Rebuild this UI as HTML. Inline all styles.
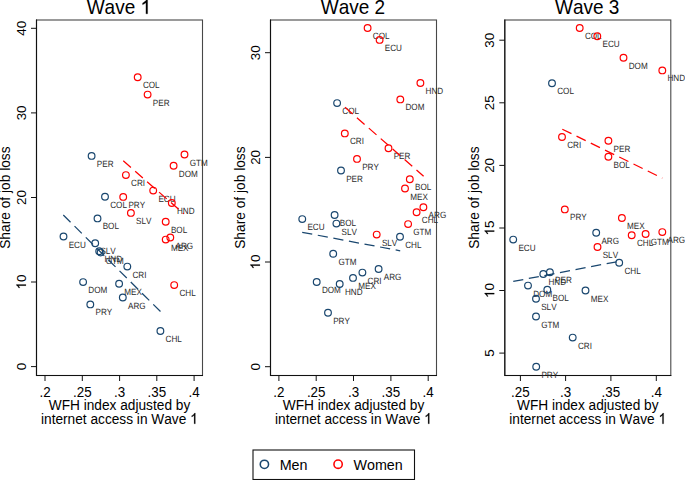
<!DOCTYPE html>
<html><head><meta charset="utf-8"><title>Share of job loss by wave</title>
<style>
html,body{margin:0;padding:0;background:#fff;}
body{width:685px;height:480px;overflow:hidden;}
svg{display:block;}
text{font-family:"Liberation Sans", sans-serif;font-kerning:none;}
text.g{text-rendering:geometricPrecision;}
</style></head><body>
<svg width="685" height="480" viewBox="0 0 685 480">
<rect x="0" y="0" width="685" height="480" fill="#fff"/>
<g transform="translate(118.9,13.8) scale(1,1.05)" fill="#000"><text x="-32.21" y="0" font-size="19.0">Wave  </text><path transform="translate(21.64,0) scale(0.009277,-0.009277)" stroke="#000" stroke-width="28" stroke-linejoin="round" d="M763 0L583 0L583 1147Q518 1085 415 1024.5Q312 964 223 931L223 1105Q375 1176 487.5 1276Q600 1376 651 1466L763 1466Z"/></g>
<rect x="36.5" y="20" width="166" height="355.5" fill="none" stroke="#484848" stroke-width="1.1"/>
<path d="M36.5 19.5V375.5H203" fill="none" stroke="#111" stroke-width="1.1"/>
<line x1="31" y1="366.6" x2="36.5" y2="366.6" stroke="#111" stroke-width="1"/>
<text transform="translate(25.95,366.6) rotate(-90)" font-size="13.4" text-anchor="middle" fill="#000">0</text>
<line x1="31" y1="282" x2="36.5" y2="282" stroke="#111" stroke-width="1"/>
<g transform="translate(25.95,282) rotate(-90)" fill="#000"><text x="-7.45" y="0" font-size="13.4"> 0</text><path transform="translate(-7.45,0) scale(0.006543,-0.006543)" stroke="#000" stroke-width="28" stroke-linejoin="round" d="M763 0L583 0L583 1147Q518 1085 415 1024.5Q312 964 223 931L223 1105Q375 1176 487.5 1276Q600 1376 651 1466L763 1466Z"/></g>
<line x1="31" y1="197.5" x2="36.5" y2="197.5" stroke="#111" stroke-width="1"/>
<text transform="translate(25.95,197.5) rotate(-90)" font-size="13.4" text-anchor="middle" fill="#000">20</text>
<line x1="31" y1="112.9" x2="36.5" y2="112.9" stroke="#111" stroke-width="1"/>
<text transform="translate(25.95,112.9) rotate(-90)" font-size="13.4" text-anchor="middle" fill="#000">30</text>
<line x1="31" y1="28.3" x2="36.5" y2="28.3" stroke="#111" stroke-width="1"/>
<text transform="translate(25.95,28.3) rotate(-90)" font-size="13.4" text-anchor="middle" fill="#000">40</text>
<line x1="45" y1="375.5" x2="45" y2="381" stroke="#111" stroke-width="1"/>
<text transform="translate(45,396.8) scale(1,1.1)" font-size="13.4" text-anchor="middle" fill="#000">.2</text>
<line x1="82.3" y1="375.5" x2="82.3" y2="381" stroke="#111" stroke-width="1"/>
<text transform="translate(82.3,396.8) scale(1,1.1)" font-size="13.4" text-anchor="middle" fill="#000">.25</text>
<line x1="119.6" y1="375.5" x2="119.6" y2="381" stroke="#111" stroke-width="1"/>
<text transform="translate(119.6,396.8) scale(1,1.1)" font-size="13.4" text-anchor="middle" fill="#000">.3</text>
<line x1="156.8" y1="375.5" x2="156.8" y2="381" stroke="#111" stroke-width="1"/>
<text transform="translate(156.8,396.8) scale(1,1.1)" font-size="13.4" text-anchor="middle" fill="#000">.35</text>
<line x1="194.1" y1="375.5" x2="194.1" y2="381" stroke="#111" stroke-width="1"/>
<text transform="translate(194.1,396.8) scale(1,1.1)" font-size="13.4" text-anchor="middle" fill="#000">.4</text>
<text transform="translate(10,197.6) rotate(-90)" font-size="13.75" text-anchor="middle" fill="#000">Share of job loss</text>
<text transform="translate(119.5,410) scale(1,1.1)" font-size="13.7" text-anchor="middle" fill="#000">WFH index adjusted by</text>
<g transform="translate(119.4,423.8) scale(1,1.1)" fill="#000"><text x="-78.43" y="0" font-size="13.7">internet access in Wave  </text><path transform="translate(70.81,0) scale(0.006689,-0.006689)" stroke="#000" stroke-width="28" stroke-linejoin="round" d="M763 0L583 0L583 1147Q518 1085 415 1024.5Q312 964 223 931L223 1105Q375 1176 487.5 1276Q600 1376 651 1466L763 1466Z"/></g>
<text transform="translate(96.8,166.9) scale(1,1.12)" font-size="8.15" fill="#2a2a2a" class="g">PER</text>
<text transform="translate(110.2,207.8) scale(1,1.12)" font-size="8.15" fill="#2a2a2a" class="g">COL</text>
<text transform="translate(102.7,229.4) scale(1,1.12)" font-size="8.15" fill="#2a2a2a" class="g">BOL</text>
<text transform="translate(68.7,247.5) scale(1,1.12)" font-size="8.15" fill="#2a2a2a" class="g">ECU</text>
<text transform="translate(100.4,254.2) scale(1,1.12)" font-size="8.15" fill="#2a2a2a" class="g">SLV</text>
<text transform="translate(104.4,262.2) scale(1,1.12)" font-size="8.15" fill="#2a2a2a" class="g">HND</text>
<text transform="translate(105.8,263.5) scale(1,1.12)" font-size="8.15" fill="#2a2a2a" class="g">GTM</text>
<text transform="translate(132.5,277.6) scale(1,1.12)" font-size="8.15" fill="#2a2a2a" class="g">CRI</text>
<text transform="translate(88.3,293.1) scale(1,1.12)" font-size="8.15" fill="#2a2a2a" class="g">DOM</text>
<text transform="translate(124.3,294.8) scale(1,1.12)" font-size="8.15" fill="#2a2a2a" class="g">MEX</text>
<text transform="translate(128,308.5) scale(1,1.12)" font-size="8.15" fill="#2a2a2a" class="g">ARG</text>
<text transform="translate(95.5,315.4) scale(1,1.12)" font-size="8.15" fill="#2a2a2a" class="g">PRY</text>
<text transform="translate(165.6,342) scale(1,1.12)" font-size="8.15" fill="#2a2a2a" class="g">CHL</text>
<circle cx="91.6" cy="155.9" r="3.35" fill="none" stroke="#1a476f" stroke-width="1.2"/>
<circle cx="105" cy="196.8" r="3.35" fill="none" stroke="#1a476f" stroke-width="1.2"/>
<circle cx="97.5" cy="218.4" r="3.35" fill="none" stroke="#1a476f" stroke-width="1.2"/>
<circle cx="63.5" cy="236.5" r="3.35" fill="none" stroke="#1a476f" stroke-width="1.2"/>
<circle cx="95.2" cy="243.2" r="3.35" fill="none" stroke="#1a476f" stroke-width="1.2"/>
<circle cx="99.2" cy="251.2" r="3.35" fill="none" stroke="#1a476f" stroke-width="1.2"/>
<circle cx="100.6" cy="252.5" r="3.35" fill="none" stroke="#1a476f" stroke-width="1.2"/>
<circle cx="127.3" cy="266.6" r="3.35" fill="none" stroke="#1a476f" stroke-width="1.2"/>
<circle cx="83.1" cy="282.1" r="3.35" fill="none" stroke="#1a476f" stroke-width="1.2"/>
<circle cx="119.1" cy="283.8" r="3.35" fill="none" stroke="#1a476f" stroke-width="1.2"/>
<circle cx="122.8" cy="297.5" r="3.35" fill="none" stroke="#1a476f" stroke-width="1.2"/>
<circle cx="90.3" cy="304.4" r="3.35" fill="none" stroke="#1a476f" stroke-width="1.2"/>
<circle cx="160.4" cy="331" r="3.35" fill="none" stroke="#1a476f" stroke-width="1.2"/>
<text transform="translate(142.9,88.2) scale(1,1.12)" font-size="8.15" fill="#2a2a2a" class="g">COL</text>
<text transform="translate(152.8,105.6) scale(1,1.12)" font-size="8.15" fill="#2a2a2a" class="g">PER</text>
<text transform="translate(189.7,165.5) scale(1,1.12)" font-size="8.15" fill="#2a2a2a" class="g">GTM</text>
<text transform="translate(178.8,176.8) scale(1,1.12)" font-size="8.15" fill="#2a2a2a" class="g">DOM</text>
<text transform="translate(131.1,186.1) scale(1,1.12)" font-size="8.15" fill="#2a2a2a" class="g">CRI</text>
<text transform="translate(158.4,201.6) scale(1,1.12)" font-size="8.15" fill="#2a2a2a" class="g">ECU</text>
<text transform="translate(128.4,207.9) scale(1,1.12)" font-size="8.15" fill="#2a2a2a" class="g">PRY</text>
<text transform="translate(177,214) scale(1,1.12)" font-size="8.15" fill="#2a2a2a" class="g">HND</text>
<text transform="translate(136.1,223.9) scale(1,1.12)" font-size="8.15" fill="#2a2a2a" class="g">SLV</text>
<text transform="translate(170.9,232.7) scale(1,1.12)" font-size="8.15" fill="#2a2a2a" class="g">BOL</text>
<text transform="translate(175.5,248.5) scale(1,1.12)" font-size="8.15" fill="#2a2a2a" class="g">ARG</text>
<text transform="translate(170.9,250.6) scale(1,1.12)" font-size="8.15" fill="#2a2a2a" class="g">MEX</text>
<text transform="translate(179.4,296.1) scale(1,1.12)" font-size="8.15" fill="#2a2a2a" class="g">CHL</text>
<circle cx="137.7" cy="77.2" r="3.35" fill="none" stroke="#ff0000" stroke-width="1.2"/>
<circle cx="147.6" cy="94.6" r="3.35" fill="none" stroke="#ff0000" stroke-width="1.2"/>
<circle cx="184.5" cy="154.5" r="3.35" fill="none" stroke="#ff0000" stroke-width="1.2"/>
<circle cx="173.6" cy="165.8" r="3.35" fill="none" stroke="#ff0000" stroke-width="1.2"/>
<circle cx="125.9" cy="175.1" r="3.35" fill="none" stroke="#ff0000" stroke-width="1.2"/>
<circle cx="153.2" cy="190.6" r="3.35" fill="none" stroke="#ff0000" stroke-width="1.2"/>
<circle cx="123.2" cy="196.9" r="3.35" fill="none" stroke="#ff0000" stroke-width="1.2"/>
<circle cx="171.8" cy="203" r="3.35" fill="none" stroke="#ff0000" stroke-width="1.2"/>
<circle cx="130.9" cy="212.9" r="3.35" fill="none" stroke="#ff0000" stroke-width="1.2"/>
<circle cx="165.7" cy="221.7" r="3.35" fill="none" stroke="#ff0000" stroke-width="1.2"/>
<circle cx="170.3" cy="237.5" r="3.35" fill="none" stroke="#ff0000" stroke-width="1.2"/>
<circle cx="165.7" cy="239.6" r="3.35" fill="none" stroke="#ff0000" stroke-width="1.2"/>
<circle cx="174.2" cy="285.1" r="3.35" fill="none" stroke="#ff0000" stroke-width="1.2"/>
<line x1="63.3" y1="215" x2="160.5" y2="311.56" stroke="#1a476f" stroke-width="1.25" stroke-dasharray="10.2 5.65"/>
<line x1="123.25" y1="160.83" x2="183.9" y2="213.9" stroke="#ff0000" stroke-width="1.25" stroke-dasharray="10.2 5.65"/>
<text transform="translate(352.9,13.8) scale(1,1.05)" font-size="19.0" text-anchor="middle" fill="#000">Wave 2</text>
<rect x="270.5" y="20" width="166" height="355.5" fill="none" stroke="#484848" stroke-width="1.1"/>
<path d="M270.5 19.5V375.5H437" fill="none" stroke="#111" stroke-width="1.1"/>
<line x1="265" y1="366.7" x2="270.5" y2="366.7" stroke="#111" stroke-width="1"/>
<text transform="translate(259.95,366.7) rotate(-90)" font-size="13.4" text-anchor="middle" fill="#000">0</text>
<line x1="265" y1="262" x2="270.5" y2="262" stroke="#111" stroke-width="1"/>
<g transform="translate(259.95,262) rotate(-90)" fill="#000"><text x="-7.45" y="0" font-size="13.4"> 0</text><path transform="translate(-7.45,0) scale(0.006543,-0.006543)" stroke="#000" stroke-width="28" stroke-linejoin="round" d="M763 0L583 0L583 1147Q518 1085 415 1024.5Q312 964 223 931L223 1105Q375 1176 487.5 1276Q600 1376 651 1466L763 1466Z"/></g>
<line x1="265" y1="157.4" x2="270.5" y2="157.4" stroke="#111" stroke-width="1"/>
<text transform="translate(259.95,157.4) rotate(-90)" font-size="13.4" text-anchor="middle" fill="#000">20</text>
<line x1="265" y1="52.7" x2="270.5" y2="52.7" stroke="#111" stroke-width="1"/>
<text transform="translate(259.95,52.7) rotate(-90)" font-size="13.4" text-anchor="middle" fill="#000">30</text>
<line x1="278.9" y1="375.5" x2="278.9" y2="381" stroke="#111" stroke-width="1"/>
<text transform="translate(278.9,396.8) scale(1,1.1)" font-size="13.4" text-anchor="middle" fill="#000">.2</text>
<line x1="316.2" y1="375.5" x2="316.2" y2="381" stroke="#111" stroke-width="1"/>
<text transform="translate(316.2,396.8) scale(1,1.1)" font-size="13.4" text-anchor="middle" fill="#000">.25</text>
<line x1="353.5" y1="375.5" x2="353.5" y2="381" stroke="#111" stroke-width="1"/>
<text transform="translate(353.5,396.8) scale(1,1.1)" font-size="13.4" text-anchor="middle" fill="#000">.3</text>
<line x1="390.9" y1="375.5" x2="390.9" y2="381" stroke="#111" stroke-width="1"/>
<text transform="translate(390.9,396.8) scale(1,1.1)" font-size="13.4" text-anchor="middle" fill="#000">.35</text>
<line x1="428.2" y1="375.5" x2="428.2" y2="381" stroke="#111" stroke-width="1"/>
<text transform="translate(428.2,396.8) scale(1,1.1)" font-size="13.4" text-anchor="middle" fill="#000">.4</text>
<text transform="translate(244.5,197.6) rotate(-90)" font-size="13.75" text-anchor="middle" fill="#000">Share of job loss</text>
<text transform="translate(353.5,410) scale(1,1.1)" font-size="13.7" text-anchor="middle" fill="#000">WFH index adjusted by</text>
<g transform="translate(353.4,423.8) scale(1,1.1)" fill="#000"><text x="-78.43" y="0" font-size="13.7">internet access in Wave  </text><path transform="translate(70.81,0) scale(0.006689,-0.006689)" stroke="#000" stroke-width="28" stroke-linejoin="round" d="M763 0L583 0L583 1147Q518 1085 415 1024.5Q312 964 223 931L223 1105Q375 1176 487.5 1276Q600 1376 651 1466L763 1466Z"/></g>
<text transform="translate(342.3,114.1) scale(1,1.12)" font-size="8.15" fill="#2a2a2a" class="g">COL</text>
<text transform="translate(346.2,181.5) scale(1,1.12)" font-size="8.15" fill="#2a2a2a" class="g">PER</text>
<text transform="translate(339.8,226) scale(1,1.12)" font-size="8.15" fill="#2a2a2a" class="g">BOL</text>
<text transform="translate(307.45,230.1) scale(1,1.12)" font-size="8.15" fill="#2a2a2a" class="g">ECU</text>
<text transform="translate(341.6,234.6) scale(1,1.12)" font-size="8.15" fill="#2a2a2a" class="g">SLV</text>
<text transform="translate(405.2,247.7) scale(1,1.12)" font-size="8.15" fill="#2a2a2a" class="g">CHL</text>
<text transform="translate(338.4,264.8) scale(1,1.12)" font-size="8.15" fill="#2a2a2a" class="g">GTM</text>
<text transform="translate(383.8,280) scale(1,1.12)" font-size="8.15" fill="#2a2a2a" class="g">ARG</text>
<text transform="translate(367.6,283.6) scale(1,1.12)" font-size="8.15" fill="#2a2a2a" class="g">CRI</text>
<text transform="translate(358.2,288.9) scale(1,1.12)" font-size="8.15" fill="#2a2a2a" class="g">MEX</text>
<text transform="translate(344.9,295) scale(1,1.12)" font-size="8.15" fill="#2a2a2a" class="g">HND</text>
<text transform="translate(321.9,293) scale(1,1.12)" font-size="8.15" fill="#2a2a2a" class="g">DOM</text>
<text transform="translate(333.2,323.7) scale(1,1.12)" font-size="8.15" fill="#2a2a2a" class="g">PRY</text>
<circle cx="337.1" cy="103.1" r="3.35" fill="none" stroke="#1a476f" stroke-width="1.2"/>
<circle cx="341" cy="170.5" r="3.35" fill="none" stroke="#1a476f" stroke-width="1.2"/>
<circle cx="334.6" cy="215" r="3.35" fill="none" stroke="#1a476f" stroke-width="1.2"/>
<circle cx="302.25" cy="219.1" r="3.35" fill="none" stroke="#1a476f" stroke-width="1.2"/>
<circle cx="336.4" cy="223.6" r="3.35" fill="none" stroke="#1a476f" stroke-width="1.2"/>
<circle cx="400" cy="236.7" r="3.35" fill="none" stroke="#1a476f" stroke-width="1.2"/>
<circle cx="333.2" cy="253.8" r="3.35" fill="none" stroke="#1a476f" stroke-width="1.2"/>
<circle cx="378.6" cy="269" r="3.35" fill="none" stroke="#1a476f" stroke-width="1.2"/>
<circle cx="362.4" cy="272.6" r="3.35" fill="none" stroke="#1a476f" stroke-width="1.2"/>
<circle cx="353" cy="277.9" r="3.35" fill="none" stroke="#1a476f" stroke-width="1.2"/>
<circle cx="339.7" cy="284" r="3.35" fill="none" stroke="#1a476f" stroke-width="1.2"/>
<circle cx="316.7" cy="282" r="3.35" fill="none" stroke="#1a476f" stroke-width="1.2"/>
<circle cx="328" cy="312.7" r="3.35" fill="none" stroke="#1a476f" stroke-width="1.2"/>
<text transform="translate(372.8,39) scale(1,1.12)" font-size="8.15" fill="#2a2a2a" class="g">COL</text>
<text transform="translate(384.8,50.9) scale(1,1.12)" font-size="8.15" fill="#2a2a2a" class="g">ECU</text>
<text transform="translate(425.6,94) scale(1,1.12)" font-size="8.15" fill="#2a2a2a" class="g">HND</text>
<text transform="translate(405.5,110.4) scale(1,1.12)" font-size="8.15" fill="#2a2a2a" class="g">DOM</text>
<text transform="translate(350,144.4) scale(1,1.12)" font-size="8.15" fill="#2a2a2a" class="g">CRI</text>
<text transform="translate(393.7,159.2) scale(1,1.12)" font-size="8.15" fill="#2a2a2a" class="g">PER</text>
<text transform="translate(362.2,169.9) scale(1,1.12)" font-size="8.15" fill="#2a2a2a" class="g">PRY</text>
<text transform="translate(415,190.3) scale(1,1.12)" font-size="8.15" fill="#2a2a2a" class="g">BOL</text>
<text transform="translate(410.2,199.5) scale(1,1.12)" font-size="8.15" fill="#2a2a2a" class="g">MEX</text>
<text transform="translate(428.6,218.3) scale(1,1.12)" font-size="8.15" fill="#2a2a2a" class="g">ARG</text>
<text transform="translate(421.8,223.2) scale(1,1.12)" font-size="8.15" fill="#2a2a2a" class="g">CHL</text>
<text transform="translate(413.3,235.1) scale(1,1.12)" font-size="8.15" fill="#2a2a2a" class="g">GTM</text>
<text transform="translate(381.9,245.6) scale(1,1.12)" font-size="8.15" fill="#2a2a2a" class="g">SLV</text>
<circle cx="367.6" cy="28" r="3.35" fill="none" stroke="#ff0000" stroke-width="1.2"/>
<circle cx="379.6" cy="39.9" r="3.35" fill="none" stroke="#ff0000" stroke-width="1.2"/>
<circle cx="420.4" cy="83" r="3.35" fill="none" stroke="#ff0000" stroke-width="1.2"/>
<circle cx="400.3" cy="99.4" r="3.35" fill="none" stroke="#ff0000" stroke-width="1.2"/>
<circle cx="344.8" cy="133.4" r="3.35" fill="none" stroke="#ff0000" stroke-width="1.2"/>
<circle cx="388.5" cy="148.2" r="3.35" fill="none" stroke="#ff0000" stroke-width="1.2"/>
<circle cx="357" cy="158.9" r="3.35" fill="none" stroke="#ff0000" stroke-width="1.2"/>
<circle cx="409.8" cy="179.3" r="3.35" fill="none" stroke="#ff0000" stroke-width="1.2"/>
<circle cx="405" cy="188.5" r="3.35" fill="none" stroke="#ff0000" stroke-width="1.2"/>
<circle cx="423.4" cy="207.3" r="3.35" fill="none" stroke="#ff0000" stroke-width="1.2"/>
<circle cx="416.6" cy="212.2" r="3.35" fill="none" stroke="#ff0000" stroke-width="1.2"/>
<circle cx="408.1" cy="224.1" r="3.35" fill="none" stroke="#ff0000" stroke-width="1.2"/>
<circle cx="376.7" cy="234.6" r="3.35" fill="none" stroke="#ff0000" stroke-width="1.2"/>
<line x1="302.2" y1="232.3" x2="400.2" y2="250.8" stroke="#1a476f" stroke-width="1.25" stroke-dasharray="10.2 5.65"/>
<line x1="345" y1="107.25" x2="423.6" y2="176.2" stroke="#ff0000" stroke-width="1.25" stroke-dasharray="10.2 5.65"/>
<text transform="translate(587.2,13.8) scale(1,1.05)" font-size="19.0" text-anchor="middle" fill="#000">Wave 3</text>
<rect x="504.8" y="20" width="166" height="355.5" fill="none" stroke="#484848" stroke-width="1.1"/>
<path d="M504.8 19.5V375.5H671.3" fill="none" stroke="#111" stroke-width="1.1"/>
<line x1="499.3" y1="353.1" x2="504.8" y2="353.1" stroke="#111" stroke-width="1"/>
<text transform="translate(494.25,353.1) rotate(-90)" font-size="13.4" text-anchor="middle" fill="#000">5</text>
<line x1="499.3" y1="290.5" x2="504.8" y2="290.5" stroke="#111" stroke-width="1"/>
<g transform="translate(494.25,290.5) rotate(-90)" fill="#000"><text x="-7.45" y="0" font-size="13.4"> 0</text><path transform="translate(-7.45,0) scale(0.006543,-0.006543)" stroke="#000" stroke-width="28" stroke-linejoin="round" d="M763 0L583 0L583 1147Q518 1085 415 1024.5Q312 964 223 931L223 1105Q375 1176 487.5 1276Q600 1376 651 1466L763 1466Z"/></g>
<line x1="499.3" y1="228" x2="504.8" y2="228" stroke="#111" stroke-width="1"/>
<g transform="translate(494.25,228) rotate(-90)" fill="#000"><text x="-7.45" y="0" font-size="13.4"> 5</text><path transform="translate(-7.45,0) scale(0.006543,-0.006543)" stroke="#000" stroke-width="28" stroke-linejoin="round" d="M763 0L583 0L583 1147Q518 1085 415 1024.5Q312 964 223 931L223 1105Q375 1176 487.5 1276Q600 1376 651 1466L763 1466Z"/></g>
<line x1="499.3" y1="165.4" x2="504.8" y2="165.4" stroke="#111" stroke-width="1"/>
<text transform="translate(494.25,165.4) rotate(-90)" font-size="13.4" text-anchor="middle" fill="#000">20</text>
<line x1="499.3" y1="102.8" x2="504.8" y2="102.8" stroke="#111" stroke-width="1"/>
<text transform="translate(494.25,102.8) rotate(-90)" font-size="13.4" text-anchor="middle" fill="#000">25</text>
<line x1="499.3" y1="40.2" x2="504.8" y2="40.2" stroke="#111" stroke-width="1"/>
<text transform="translate(494.25,40.2) rotate(-90)" font-size="13.4" text-anchor="middle" fill="#000">30</text>
<line x1="520.4" y1="375.5" x2="520.4" y2="381" stroke="#111" stroke-width="1"/>
<text transform="translate(520.4,396.8) scale(1,1.1)" font-size="13.4" text-anchor="middle" fill="#000">.25</text>
<line x1="565.6" y1="375.5" x2="565.6" y2="381" stroke="#111" stroke-width="1"/>
<text transform="translate(565.6,396.8) scale(1,1.1)" font-size="13.4" text-anchor="middle" fill="#000">.3</text>
<line x1="610.9" y1="375.5" x2="610.9" y2="381" stroke="#111" stroke-width="1"/>
<text transform="translate(610.9,396.8) scale(1,1.1)" font-size="13.4" text-anchor="middle" fill="#000">.35</text>
<line x1="656.3" y1="375.5" x2="656.3" y2="381" stroke="#111" stroke-width="1"/>
<text transform="translate(656.3,396.8) scale(1,1.1)" font-size="13.4" text-anchor="middle" fill="#000">.4</text>
<text transform="translate(479,197.6) rotate(-90)" font-size="13.75" text-anchor="middle" fill="#000">Share of job loss</text>
<text transform="translate(587.8,410) scale(1,1.1)" font-size="13.7" text-anchor="middle" fill="#000">WFH index adjusted by</text>
<g transform="translate(587.7,423.8) scale(1,1.1)" fill="#000"><text x="-78.43" y="0" font-size="13.7">internet access in Wave  </text><path transform="translate(70.81,0) scale(0.006689,-0.006689)" stroke="#000" stroke-width="28" stroke-linejoin="round" d="M763 0L583 0L583 1147Q518 1085 415 1024.5Q312 964 223 931L223 1105Q375 1176 487.5 1276Q600 1376 651 1466L763 1466Z"/></g>
<text transform="translate(557.2,94.2) scale(1,1.12)" font-size="8.15" fill="#2a2a2a" class="g">COL</text>
<text transform="translate(601.4,243.8) scale(1,1.12)" font-size="8.15" fill="#2a2a2a" class="g">ARG</text>
<text transform="translate(518.4,250.6) scale(1,1.12)" font-size="8.15" fill="#2a2a2a" class="g">ECU</text>
<text transform="translate(624.4,273.8) scale(1,1.12)" font-size="8.15" fill="#2a2a2a" class="g">CHL</text>
<text transform="translate(555.1,283.2) scale(1,1.12)" font-size="8.15" fill="#2a2a2a" class="g">PER</text>
<text transform="translate(548.5,285.05) scale(1,1.12)" font-size="8.15" fill="#2a2a2a" class="g">HND</text>
<text transform="translate(533.2,296.6) scale(1,1.12)" font-size="8.15" fill="#2a2a2a" class="g">DOM</text>
<text transform="translate(552.5,300.8) scale(1,1.12)" font-size="8.15" fill="#2a2a2a" class="g">BOL</text>
<text transform="translate(590.7,301.5) scale(1,1.12)" font-size="8.15" fill="#2a2a2a" class="g">MEX</text>
<text transform="translate(541.2,309.8) scale(1,1.12)" font-size="8.15" fill="#2a2a2a" class="g">SLV</text>
<text transform="translate(541.2,327.5) scale(1,1.12)" font-size="8.15" fill="#2a2a2a" class="g">GTM</text>
<text transform="translate(577.9,348.6) scale(1,1.12)" font-size="8.15" fill="#2a2a2a" class="g">CRI</text>
<text transform="translate(541.4,377.8) scale(1,1.12)" font-size="8.15" fill="#2a2a2a" class="g">PRY</text>
<circle cx="552" cy="83.2" r="3.35" fill="none" stroke="#1a476f" stroke-width="1.2"/>
<circle cx="596.2" cy="232.8" r="3.35" fill="none" stroke="#1a476f" stroke-width="1.2"/>
<circle cx="513.2" cy="239.6" r="3.35" fill="none" stroke="#1a476f" stroke-width="1.2"/>
<circle cx="619.2" cy="262.8" r="3.35" fill="none" stroke="#1a476f" stroke-width="1.2"/>
<circle cx="549.9" cy="272.2" r="3.35" fill="none" stroke="#1a476f" stroke-width="1.2"/>
<circle cx="543.3" cy="274.05" r="3.35" fill="none" stroke="#1a476f" stroke-width="1.2"/>
<circle cx="528" cy="285.6" r="3.35" fill="none" stroke="#1a476f" stroke-width="1.2"/>
<circle cx="547.3" cy="289.8" r="3.35" fill="none" stroke="#1a476f" stroke-width="1.2"/>
<circle cx="585.5" cy="290.5" r="3.35" fill="none" stroke="#1a476f" stroke-width="1.2"/>
<circle cx="536" cy="298.8" r="3.35" fill="none" stroke="#1a476f" stroke-width="1.2"/>
<circle cx="536" cy="316.5" r="3.35" fill="none" stroke="#1a476f" stroke-width="1.2"/>
<circle cx="572.7" cy="337.6" r="3.35" fill="none" stroke="#1a476f" stroke-width="1.2"/>
<circle cx="536.2" cy="366.8" r="3.35" fill="none" stroke="#1a476f" stroke-width="1.2"/>
<text transform="translate(584.9,39) scale(1,1.12)" font-size="8.15" fill="#2a2a2a" class="g">COL</text>
<text transform="translate(602.5,47.3) scale(1,1.12)" font-size="8.15" fill="#2a2a2a" class="g">ECU</text>
<text transform="translate(628.7,68.8) scale(1,1.12)" font-size="8.15" fill="#2a2a2a" class="g">DOM</text>
<text transform="translate(667.5,81.4) scale(1,1.12)" font-size="8.15" fill="#2a2a2a" class="g">HND</text>
<text transform="translate(567.2,148) scale(1,1.12)" font-size="8.15" fill="#2a2a2a" class="g">CRI</text>
<text transform="translate(613.6,151.7) scale(1,1.12)" font-size="8.15" fill="#2a2a2a" class="g">PER</text>
<text transform="translate(613.6,167.8) scale(1,1.12)" font-size="8.15" fill="#2a2a2a" class="g">BOL</text>
<text transform="translate(570,220.4) scale(1,1.12)" font-size="8.15" fill="#2a2a2a" class="g">PRY</text>
<text transform="translate(627.1,229) scale(1,1.12)" font-size="8.15" fill="#2a2a2a" class="g">MEX</text>
<text transform="translate(667.5,243.1) scale(1,1.12)" font-size="8.15" fill="#2a2a2a" class="g">ARG</text>
<text transform="translate(650.8,245) scale(1,1.12)" font-size="8.15" fill="#2a2a2a" class="g">GTM</text>
<text transform="translate(636.9,246.3) scale(1,1.12)" font-size="8.15" fill="#2a2a2a" class="g">CHL</text>
<text transform="translate(602.7,258) scale(1,1.12)" font-size="8.15" fill="#2a2a2a" class="g">SLV</text>
<circle cx="579.7" cy="28" r="3.35" fill="none" stroke="#ff0000" stroke-width="1.2"/>
<circle cx="597.3" cy="36.3" r="3.35" fill="none" stroke="#ff0000" stroke-width="1.2"/>
<circle cx="623.5" cy="57.8" r="3.35" fill="none" stroke="#ff0000" stroke-width="1.2"/>
<circle cx="662.3" cy="70.4" r="3.35" fill="none" stroke="#ff0000" stroke-width="1.2"/>
<circle cx="562" cy="137" r="3.35" fill="none" stroke="#ff0000" stroke-width="1.2"/>
<circle cx="608.4" cy="140.7" r="3.35" fill="none" stroke="#ff0000" stroke-width="1.2"/>
<circle cx="608.4" cy="156.8" r="3.35" fill="none" stroke="#ff0000" stroke-width="1.2"/>
<circle cx="564.8" cy="209.4" r="3.35" fill="none" stroke="#ff0000" stroke-width="1.2"/>
<circle cx="621.9" cy="218" r="3.35" fill="none" stroke="#ff0000" stroke-width="1.2"/>
<circle cx="662.3" cy="232.1" r="3.35" fill="none" stroke="#ff0000" stroke-width="1.2"/>
<circle cx="645.6" cy="234" r="3.35" fill="none" stroke="#ff0000" stroke-width="1.2"/>
<circle cx="631.7" cy="235.3" r="3.35" fill="none" stroke="#ff0000" stroke-width="1.2"/>
<circle cx="597.5" cy="247" r="3.35" fill="none" stroke="#ff0000" stroke-width="1.2"/>
<line x1="513.25" y1="281.45" x2="619.2" y2="261.3" stroke="#1a476f" stroke-width="1.25" stroke-dasharray="10.2 5.65"/>
<line x1="562.3" y1="129.2" x2="662.3" y2="178.1" stroke="#ff0000" stroke-width="1.25" stroke-dasharray="10.2 5.65"/>
<rect x="253" y="450" width="161.5" height="29.5" fill="#fff" stroke="#111" stroke-width="1.1"/>
<circle cx="264.4" cy="464.3" r="4.15" fill="none" stroke="#1a476f" stroke-width="1.55"/>
<text transform="translate(279.7,470.2) scale(1,1.05)" font-size="14.3" text-anchor="start" fill="#000">Men</text>
<circle cx="338.1" cy="464.2" r="4.15" fill="none" stroke="#ff0000" stroke-width="1.55"/>
<text transform="translate(353.5,470.2) scale(1,1.05)" font-size="14.3" text-anchor="start" fill="#000">Women</text>
</svg>
</body></html>
